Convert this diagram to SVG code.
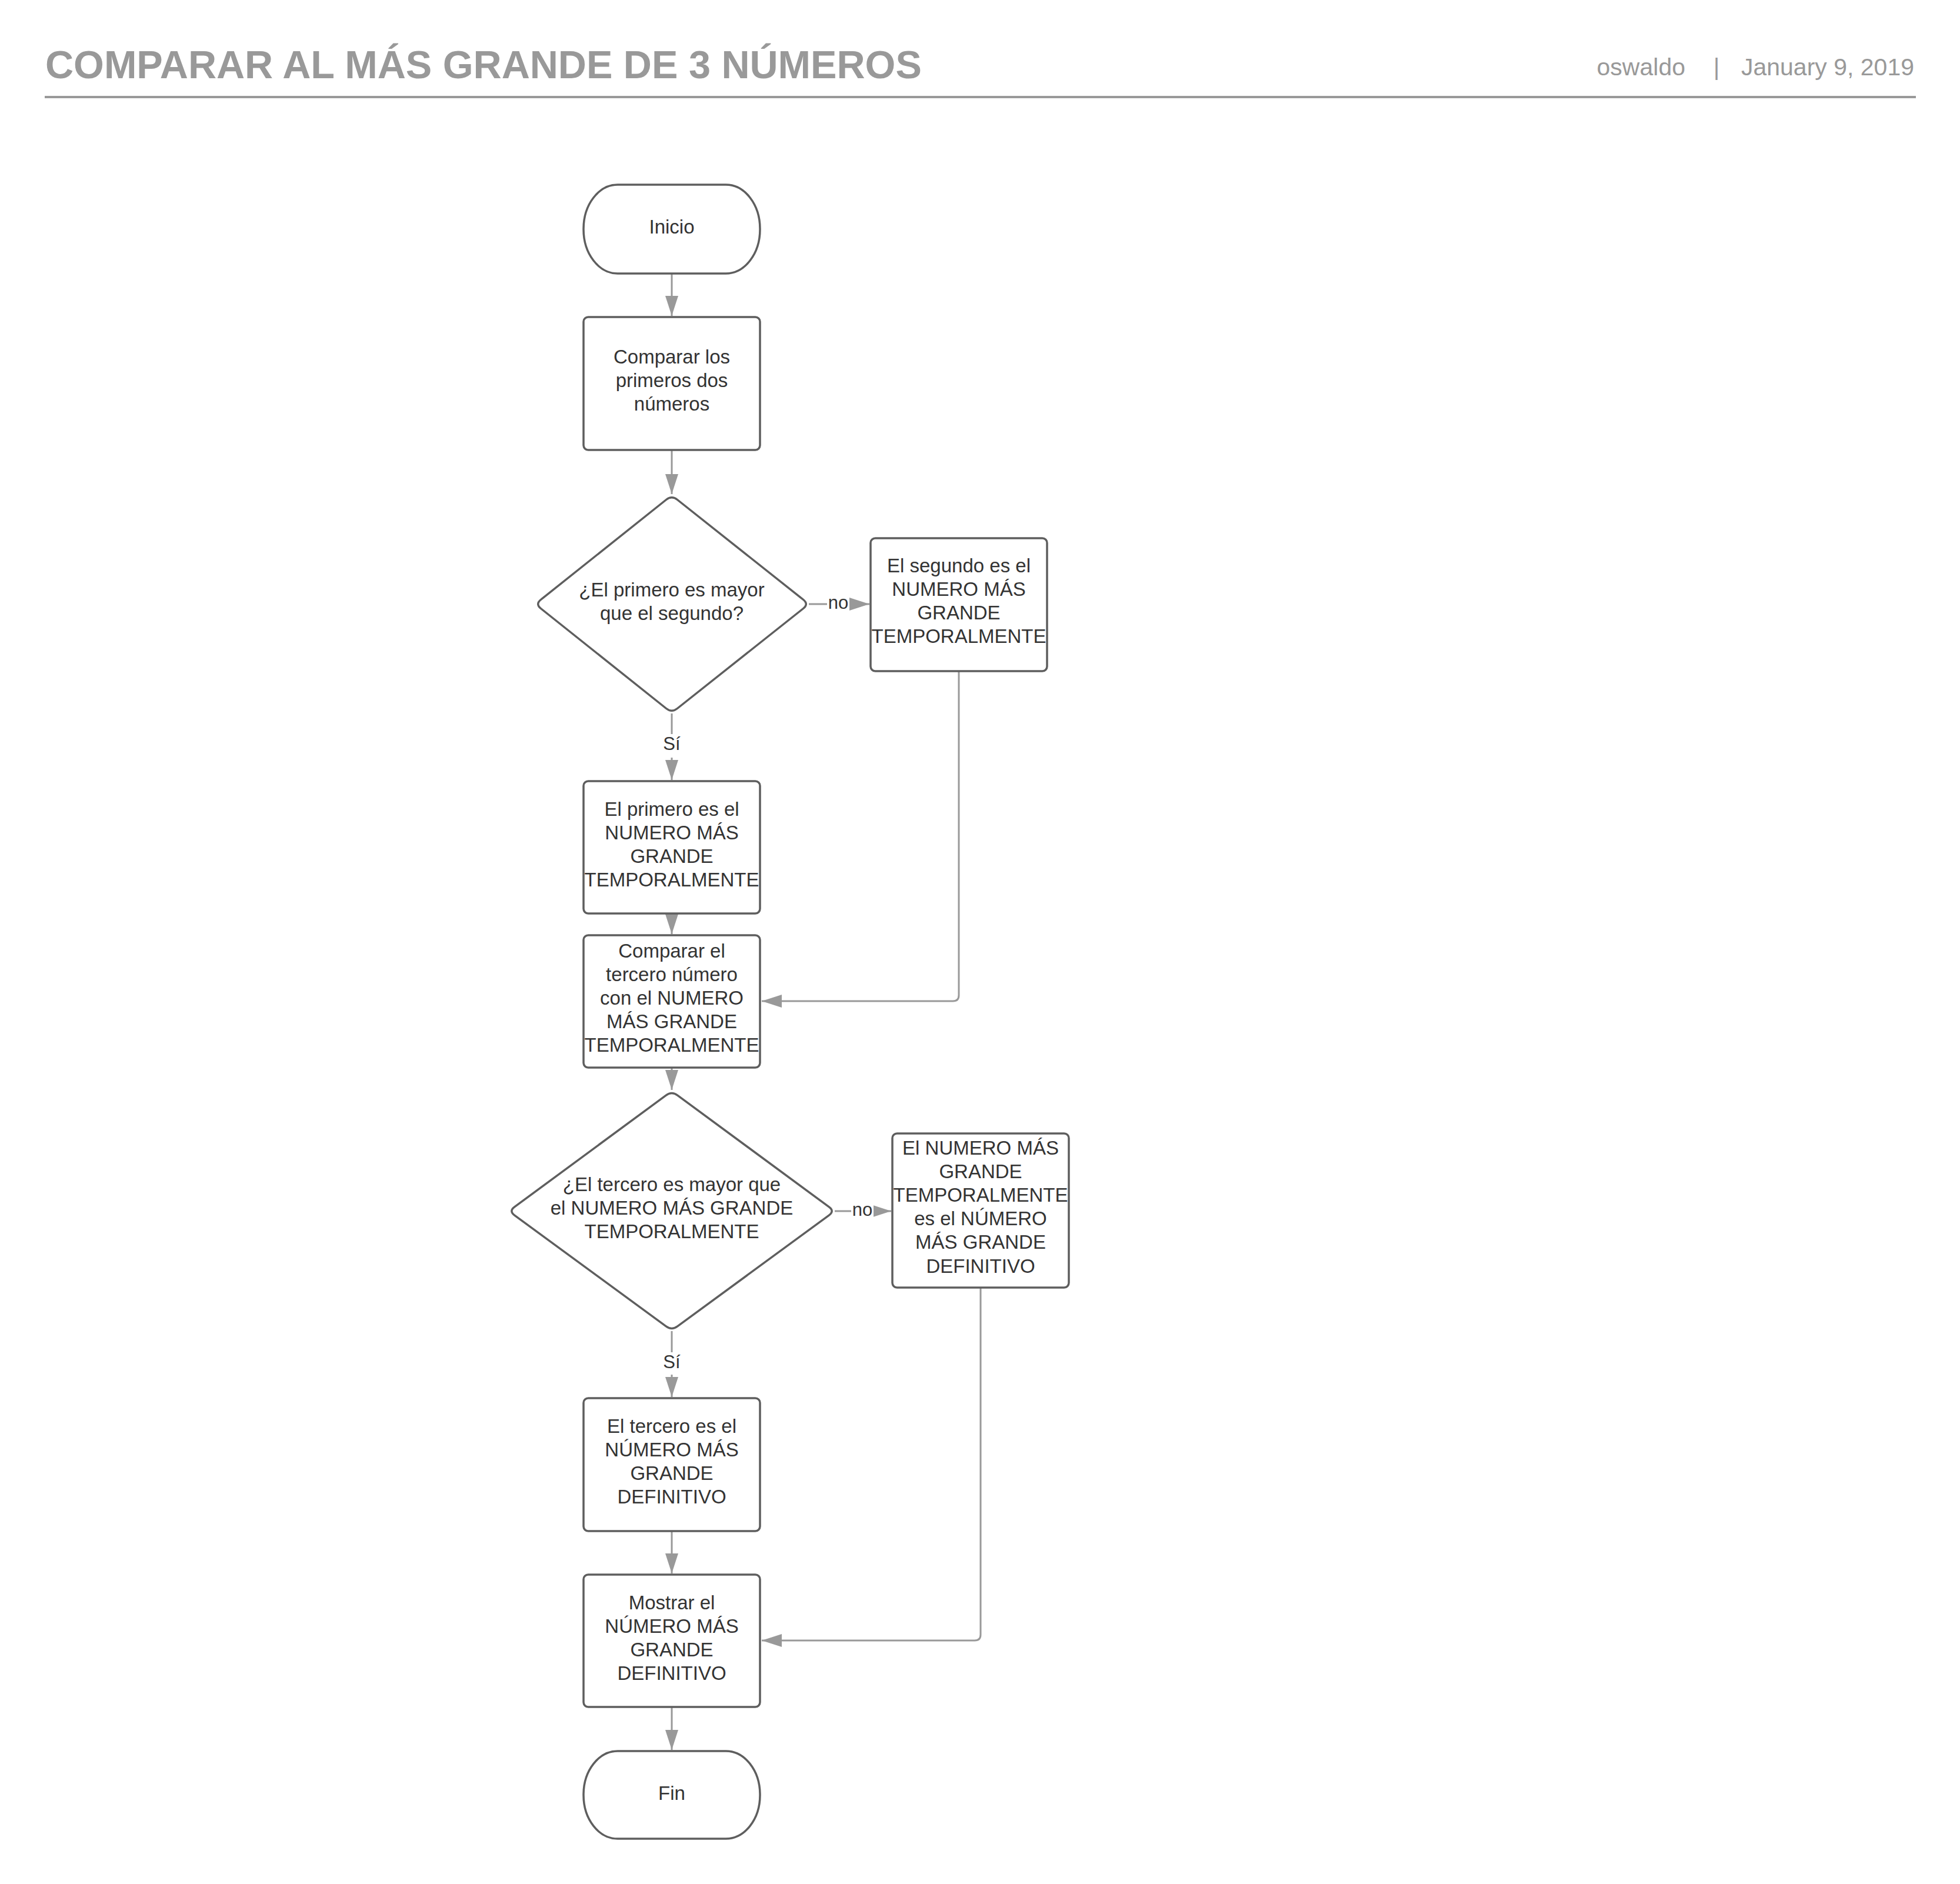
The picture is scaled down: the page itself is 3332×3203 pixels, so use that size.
<svg xmlns="http://www.w3.org/2000/svg" width="3332" height="3203" viewBox="0 0 3332 3203">
<style>
.node{fill:#ffffff;stroke:#5e5e5e;stroke-width:3.5;stroke-linejoin:round}
.t{font-family:"Liberation Sans",Arial,sans-serif;font-size:33px;fill:#333333;text-anchor:middle}
.lbl{font-family:"Liberation Sans",Arial,sans-serif;font-size:31px;fill:#333333;text-anchor:middle}
.conn{fill:none;stroke:#999999;stroke-width:3;stroke-linejoin:round}
.hdr{font-family:"Liberation Sans",Arial,sans-serif;fill:#999999}
</style>
<defs>
<marker id="ah" markerUnits="userSpaceOnUse" markerWidth="34" markerHeight="22" refX="34" refY="11" orient="auto">
<path d="M0,0 L34,11 L0,22 Z" fill="#999999"/>
</marker>
</defs>
<rect width="3332" height="3203" fill="#ffffff"/>
<g id="header">
<text class="hdr" x="77" y="133" font-size="66.6" font-weight="bold">COMPARAR AL MÁS GRANDE DE 3 NÚMEROS</text>
<text class="hdr" x="2865" y="128" font-size="41" text-anchor="end">oswaldo</text>
<text class="hdr" x="2918" y="128" font-size="41" text-anchor="middle">|</text>
<text class="hdr" x="3254" y="128" font-size="41" text-anchor="end">January 9, 2019</text>
<line x1="76" y1="165" x2="3257" y2="165" stroke="#999999" stroke-width="4"/>
</g>
<g id="connectors">
<path class="conn" d="M1142,465 L1142,537" marker-end="url(#ah)"/>
<path class="conn" d="M1142,765 L1142,840" marker-end="url(#ah)"/>
<path class="conn" d="M1375,1027 L1478,1027" marker-end="url(#ah)"/>
<path class="conn" d="M1142,1213 L1142,1326" marker-end="url(#ah)"/>
<path class="conn" d="M1630,1141 L1630,1692 Q1630,1702 1620,1702 L1295,1702" marker-end="url(#ah)"/>
<path class="conn" d="M1142,1553 L1142,1588" marker-end="url(#ah)"/>
<path class="conn" d="M1142,1815 L1142,1853" marker-end="url(#ah)"/>
<path class="conn" d="M1419,2059 L1515,2059" marker-end="url(#ah)"/>
<path class="conn" d="M1142,2263 L1142,2375" marker-end="url(#ah)"/>
<path class="conn" d="M1667,2189 L1667,2779 Q1667,2789 1657,2789 L1295,2789" marker-end="url(#ah)"/>
<path class="conn" d="M1142,2603 L1142,2675" marker-end="url(#ah)"/>
<path class="conn" d="M1142,2902 L1142,2975" marker-end="url(#ah)"/>
<rect x="1406" y="1008" width="38" height="34" fill="#ffffff"/>
<text class="lbl" x="1425" y="1035">no</text>
<rect x="1447" y="2040" width="38" height="34" fill="#ffffff"/>
<text class="lbl" x="1466" y="2067">no</text>
<rect x="1122" y="1248" width="40" height="40" fill="#ffffff"/>
<text class="lbl" x="1142" y="1275">Sí</text>
<rect x="1122" y="2299" width="40" height="38" fill="#ffffff"/>
<text class="lbl" x="1142" y="2326">Sí</text>
</g>
<g id="inicio">
<rect class="node" x="992" y="314" width="300" height="151" rx="58" ry="75"/>
<text class="t" x="1142" y="397">Inicio</text>
</g>
<g id="comparar1">
<rect class="node" x="992" y="539" width="300" height="226" rx="8"/>
<text class="t" x="1142" y="618">Comparar los</text>
<text class="t" x="1142" y="658">primeros dos</text>
<text class="t" x="1142" y="698">números</text>
</g>
<g id="decision1">
<path class="node" d="M1151.4,849.5 L1365.6,1019.5 Q1375,1027 1365.6,1034.5 L1151.4,1204.5 Q1142,1212 1132.6,1204.5 L919.4,1034.5 Q910,1027 919.4,1019.5 L1132.6,849.5 Q1142,842 1151.4,849.5 Z"/>
<text class="t" x="1142" y="1014">¿El primero es mayor</text>
<text class="t" x="1142" y="1054">que el segundo?</text>
</g>
<g id="segundo">
<rect class="node" x="1480" y="915" width="300" height="226" rx="8"/>
<text class="t" x="1630" y="973">El segundo es el</text>
<text class="t" x="1630" y="1013">NUMERO MÁS</text>
<text class="t" x="1630" y="1053">GRANDE</text>
<text class="t" x="1630" y="1093">TEMPORALMENTE</text>
</g>
<g id="primero">
<rect class="node" x="992" y="1328" width="300" height="225" rx="8"/>
<text class="t" x="1142" y="1387">El primero es el</text>
<text class="t" x="1142" y="1427">NUMERO MÁS</text>
<text class="t" x="1142" y="1467">GRANDE</text>
<text class="t" x="1142" y="1507">TEMPORALMENTE</text>
</g>
<g id="comparar2">
<rect class="node" x="992" y="1590" width="300" height="225" rx="8"/>
<text class="t" x="1142" y="1628">Comparar el</text>
<text class="t" x="1142" y="1668">tercero número</text>
<text class="t" x="1142" y="1708">con el NUMERO</text>
<text class="t" x="1142" y="1748">MÁS GRANDE</text>
<text class="t" x="1142" y="1788">TEMPORALMENTE</text>
</g>
<g id="decision2">
<path class="node" d="M1151.7,1862.1 L1409.3,2051.9 Q1419,2059 1409.3,2066.1 L1151.7,2254.9 Q1142,2262 1132.3,2254.9 L874.7,2066.1 Q865,2059 874.7,2051.9 L1132.3,1862.1 Q1142,1855 1151.7,1862.1 Z"/>
<text class="t" x="1142" y="2025">¿El tercero es mayor que</text>
<text class="t" x="1142" y="2065">el NUMERO MÁS GRANDE</text>
<text class="t" x="1142" y="2105">TEMPORALMENTE</text>
</g>
<g id="temporal_definitivo">
<rect class="node" x="1517" y="1927" width="300" height="262" rx="8"/>
<text class="t" x="1667" y="1963">El NUMERO MÁS</text>
<text class="t" x="1667" y="2003">GRANDE</text>
<text class="t" x="1667" y="2043">TEMPORALMENTE</text>
<text class="t" x="1667" y="2083">es el NÚMERO</text>
<text class="t" x="1667" y="2123">MÁS GRANDE</text>
<text class="t" x="1667" y="2164">DEFINITIVO</text>
</g>
<g id="tercero">
<rect class="node" x="992" y="2377" width="300" height="226" rx="8"/>
<text class="t" x="1142" y="2436">El tercero es el</text>
<text class="t" x="1142" y="2476">NÚMERO MÁS</text>
<text class="t" x="1142" y="2516">GRANDE</text>
<text class="t" x="1142" y="2556">DEFINITIVO</text>
</g>
<g id="mostrar">
<rect class="node" x="992" y="2677" width="300" height="225" rx="8"/>
<text class="t" x="1142" y="2736">Mostrar el</text>
<text class="t" x="1142" y="2776">NÚMERO MÁS</text>
<text class="t" x="1142" y="2816">GRANDE</text>
<text class="t" x="1142" y="2856">DEFINITIVO</text>
</g>
<g id="fin">
<rect class="node" x="992" y="2977" width="300" height="149" rx="58" ry="74"/>
<text class="t" x="1142" y="3060">Fin</text>
</g>
</svg>
